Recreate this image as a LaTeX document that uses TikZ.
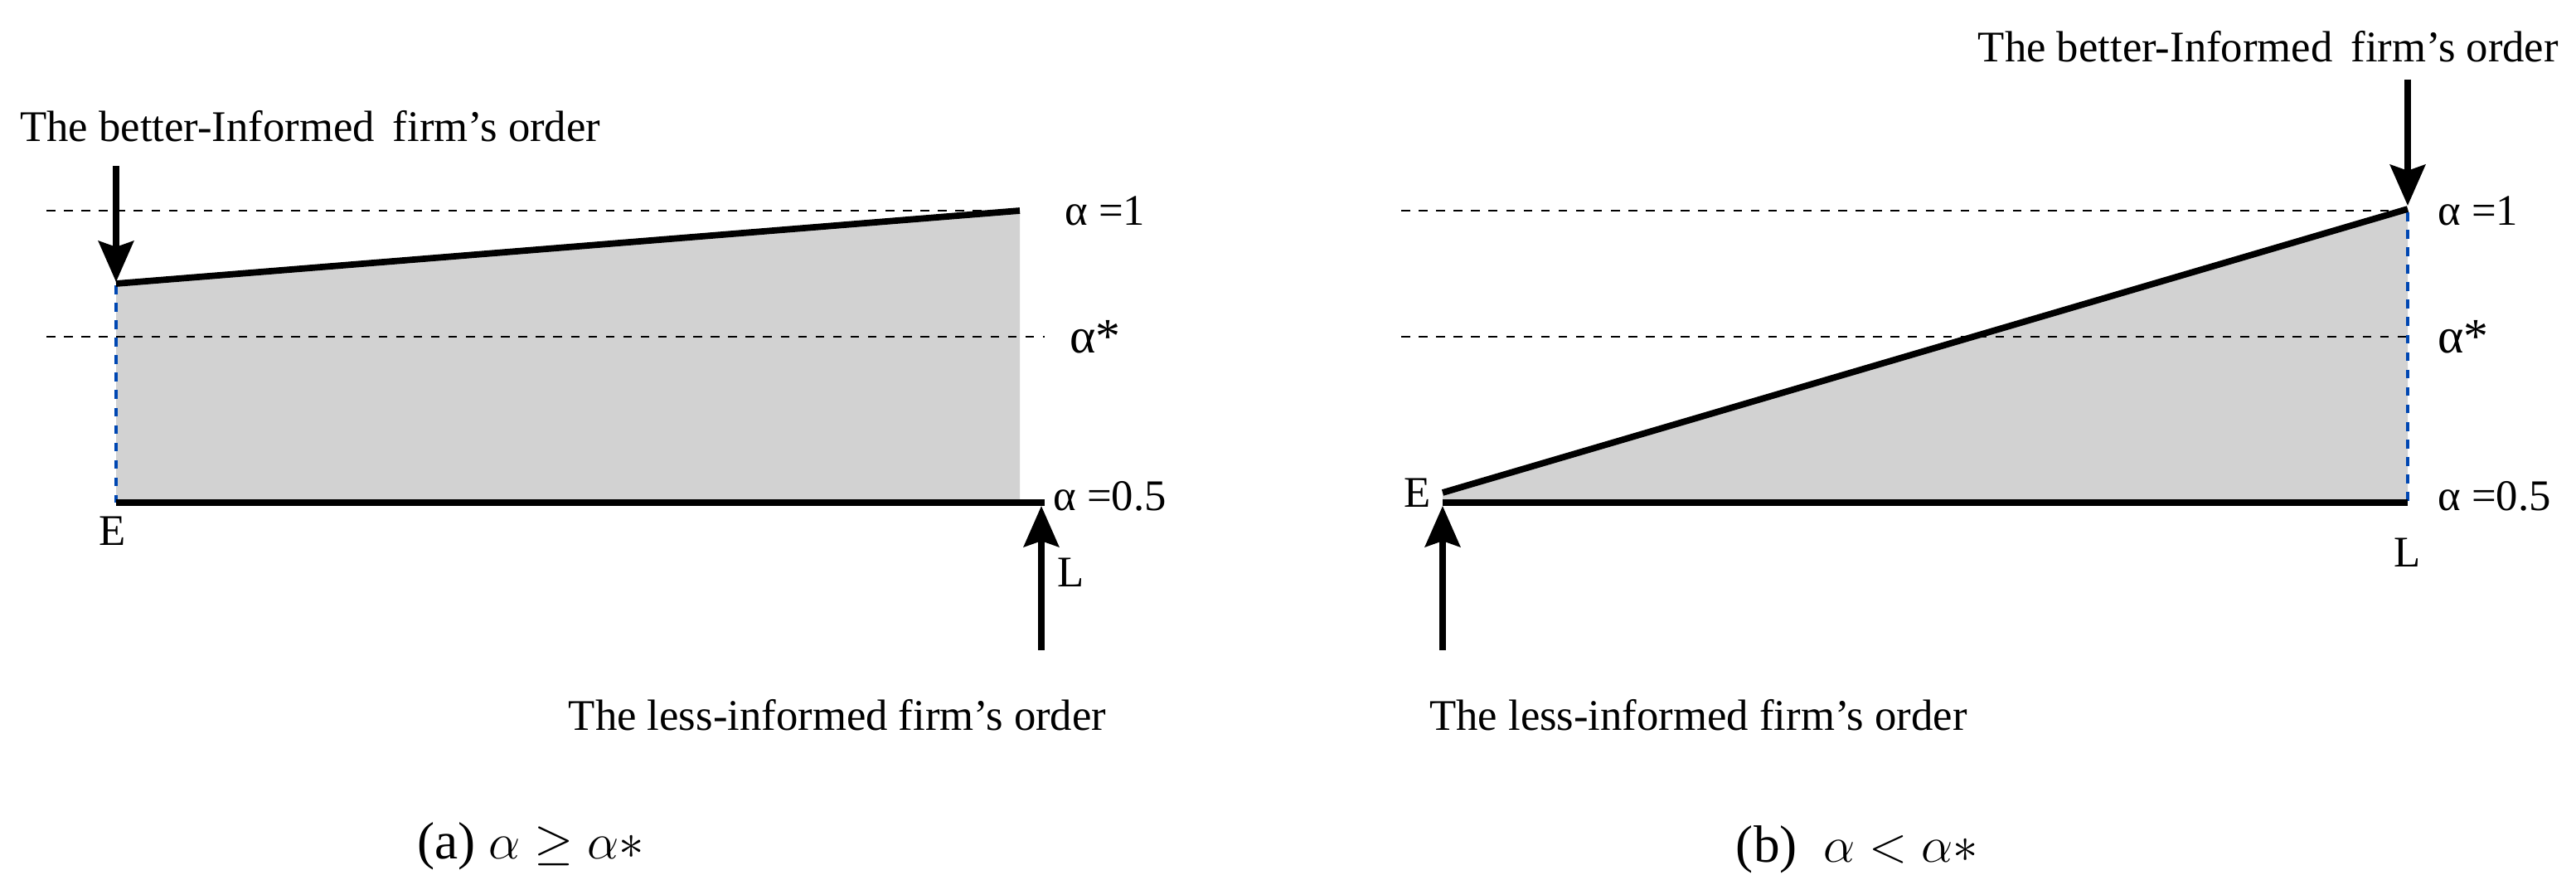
\documentclass[tikz,border=0pt]{standalone}
\usepackage{fontspec}
\setmainfont{Liberation Serif}
\usetikzlibrary{arrows.meta}
\begin{document}
\begin{tikzpicture}[x=0.02cm,y=-0.02cm,
  thk/.style={line width=2.2pt},
  dsh/.style={dashed,line width=0.8pt},
  bdsh/.style={dashed,line width=0.9pt,color=blue!60!cyan!70!black},
  arr/.style={line width=2.2pt,-{Stealth[length=14pt,width=12pt,inset=2pt]}},
  lbl/.style={font=\fontsize{15}{18}\selectfont,inner sep=1pt},
  captxt/.style={font=\fontsize{18}{22}\selectfont,inner sep=1pt}]
\useasboundingbox (0,0) rectangle (1553.5,527.5);
% panel a
\fill[gray!35] (70,170) -- (615,127) -- (615,303) -- (70,303) -- cycle;
\draw[dsh] (28,127) -- (615,127);
\draw[dsh] (28,203) -- (630,203);
\draw[bdsh] (70,172) -- (70,303);
\coordinate (a1) at (70,171);
\coordinate (a2) at (615,127);
\coordinate (aE) at (70,303);
\coordinate (aL) at (630,303);
\draw[thk] (a1) -- (a2);
\draw[thk] (aE) -- (aL);
\node[lbl,anchor=west] (al1) at (640,127) {α =1};
\node[lbl,anchor=west,font=\fontsize{17}{20}\selectfont] (als) at (643,203) {α*};
\node[lbl,anchor=west] (al05) at (633,299) {α =0.5};
\node[lbl] (E1) at (68,320) {E};
\node[lbl] (L1) at (646,345) {L};
\node[lbl,anchor=west] (tb1) at (10,76) {The better-Informed\, firm’s order};
\coordinate (ta1) at (70,100);
\draw[arr] (ta1) -- (70,170);
\node[lbl] (tl1) at (505,431) {The less-informed firm’s order};
\coordinate (tu1) at (628,392);
\draw[arr] (tu1) -- (628,305);
\node[captxt] (ca) at (320,510) {(a) $\alpha \geq \alpha\ast$};
% panel b
\fill[gray!35] (870,297) -- (1452,127) -- (1452,303) -- (870,303) -- cycle;
\draw[dsh] (845,127) -- (1452,127);
\draw[dsh] (845,203) -- (1452,203);
\draw[bdsh] (1452,128) -- (1452,303);
\coordinate (b1) at (870,297);
\coordinate (b2) at (1452,126);
\coordinate (bE) at (870,303);
\coordinate (bL) at (1452,303);
\draw[thk] (b1) -- (b2);
\draw[thk] (bE) -- (bL);
\node[lbl,anchor=west] (bl1) at (1468,127) {α =1};
\node[lbl,anchor=west,font=\fontsize{17}{20}\selectfont] (bls) at (1468,203) {α*};
\node[lbl,anchor=west] (bl05) at (1468,299) {α =0.5};
\node[lbl] (E2) at (855,297) {E};
\node[lbl] (L2) at (1452,333) {L};
\node[lbl,anchor=east] (tb2) at (1545,28) {The better-Informed\, firm’s order};
\coordinate (ta2) at (1452,48);
\draw[arr] (ta2) -- (1452,124);
\node[lbl,anchor=west] (tl2) at (860,431) {The less-informed firm’s order};
\coordinate (tu2) at (870,392);
\draw[arr] (tu2) -- (870,305);
\node[captxt] (cb) at (1120,512) {(b)\ \ $\alpha < \alpha\ast$};
\end{tikzpicture}
\end{document}
